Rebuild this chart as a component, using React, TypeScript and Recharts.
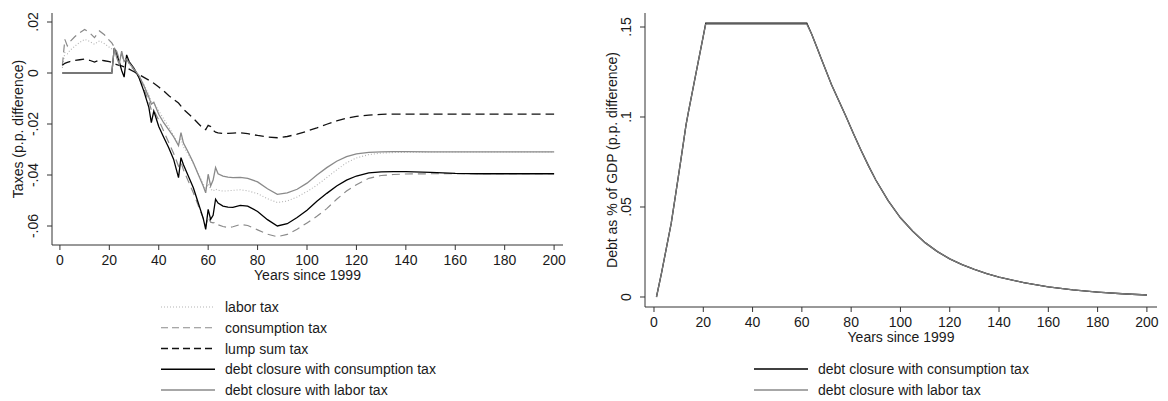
import React from "react";
import { LineChart, Line, XAxis, YAxis, Label } from "recharts";

// ---------- Left panel data (years since 1999) ----------
const years = [
  1, 2, 3, 4, 6, 8, 10, 12, 14, 16,
  18, 20, 21, 22, 23, 24, 25, 26, 27, 28,
  30, 32, 34, 36, 37, 38, 40, 42, 44, 46,
  48, 49, 50, 52, 54, 56, 58, 59, 60, 61,
  62, 63, 64, 66, 68, 70, 73, 76, 80, 84,
  88, 92, 96, 100, 104, 108, 112, 116, 120, 125,
  130, 135, 140, 150, 160, 170, 180, 190, 200,
];

const laborTax = [
  0.002, 0.008, 0.0075, 0.0088, 0.0105, 0.012, 0.0132, 0.0124, 0.0113, 0.0126,
  0.0115, 0.0101, 0.0095, 0.009, 0.0075, 0.005, 0.0072, 0.0045, 0.0055, 0.0035,
  0.001, -0.001, -0.0045, -0.0085, -0.0115, -0.0118, -0.0148, -0.018, -0.021, -0.0245,
  -0.028, -0.026, -0.029, -0.032, -0.0355, -0.0395, -0.0435, -0.0456, -0.0435, -0.0455,
  -0.0463, -0.0455, -0.046, -0.0463, -0.0462, -0.046, -0.0458, -0.0462, -0.0473, -0.0493,
  -0.0508, -0.0502, -0.0486, -0.0465, -0.044, -0.041, -0.038, -0.0352, -0.0333, -0.032,
  -0.0314, -0.0312, -0.0311, -0.031, -0.031, -0.031, -0.031, -0.031, -0.031,
];

const consumptionTax = [
  0.003, 0.0132, 0.0106, 0.0122, 0.0142, 0.0158, 0.0171, 0.0158, 0.0139, 0.0165,
  0.015, 0.0128, 0.0118, 0.0102, 0.0085, 0.0055, 0.0075, 0.0045, 0.006, 0.0035,
  0.0012, -0.0018, -0.0062, -0.0112, -0.0145, -0.0145, -0.0185, -0.0228, -0.0272, -0.0315,
  -0.0365, -0.035, -0.038, -0.0425, -0.047, -0.052, -0.057, -0.06, -0.0565, -0.0585,
  -0.0588, -0.0585, -0.0595, -0.0602, -0.0606, -0.0603, -0.0594, -0.0598, -0.0615, -0.0632,
  -0.0642, -0.0633, -0.0613, -0.0588, -0.0562, -0.0532, -0.0495, -0.0463, -0.0438, -0.0413,
  -0.0402, -0.0398, -0.0396, -0.0395, -0.0395, -0.0395, -0.0395, -0.0395, -0.0395,
];

const lumpSumTax = [
  0.003, 0.0038, 0.0042, 0.0045, 0.0049, 0.0052, 0.0055, 0.005, 0.0043, 0.0051,
  0.0048, 0.0045, 0.0042, 0.0036, 0.0033, 0.003, 0.0028, 0.0024, 0.002, 0.0015,
  0.0005, -0.0006, -0.0017, -0.0028, -0.0034, -0.004, -0.0055, -0.007, -0.0088, -0.0103,
  -0.0118, -0.013, -0.0142, -0.016, -0.0178, -0.0198, -0.0218, -0.0222, -0.0205, -0.021,
  -0.0225, -0.0232, -0.0235, -0.0237, -0.0237, -0.0236, -0.0234, -0.0238, -0.0245, -0.0251,
  -0.0254, -0.0249, -0.024, -0.0228, -0.0215, -0.0201, -0.0188, -0.0177, -0.017, -0.0165,
  -0.0162, -0.0161, -0.0161, -0.0161, -0.0161, -0.0161, -0.0161, -0.0161, -0.0161,
];

const debtClosureConsumption = [
  0, 0, 0, 0, 0, 0, 0, 0, 0, 0,
  0, 0, 0, 0.0098, 0.007, 0.0045, 0.001, -0.0016, 0.0071, 0.0045,
  0.0018, -0.0018, -0.0072, -0.0135, -0.0195, -0.0149, -0.021, -0.0252, -0.0292, -0.0338,
  -0.041, -0.0332, -0.036, -0.0405, -0.045, -0.051, -0.057, -0.0613, -0.0535, -0.0574,
  -0.0558, -0.0495, -0.051, -0.0522, -0.0526, -0.0527, -0.0519, -0.0522, -0.0543, -0.0575,
  -0.06, -0.0591, -0.0567, -0.0538, -0.0503, -0.0472, -0.0443, -0.042, -0.0404, -0.0392,
  -0.0388, -0.0387, -0.0387, -0.039, -0.0394, -0.0395, -0.0395, -0.0395, -0.0395,
];

const debtClosureLabor = [
  0, 0, 0, 0, 0, 0, 0, 0, 0, 0,
  0, 0, 0, 0.0098, 0.006, 0.0035, 0.0086, 0.0045, 0.0055, 0.004,
  0.0015, -0.001, -0.005, -0.0095, -0.0122, -0.0115, -0.0162, -0.0195, -0.0222, -0.025,
  -0.0285, -0.0234, -0.0275, -0.0312, -0.0352, -0.0398, -0.0443, -0.047, -0.0397, -0.0443,
  -0.042, -0.0371, -0.0395, -0.0404, -0.0408, -0.041, -0.0409, -0.0413, -0.0427, -0.0454,
  -0.0476, -0.047, -0.0456, -0.0432, -0.04, -0.0371, -0.0346, -0.0328, -0.0317, -0.0311,
  -0.0309, -0.0308, -0.0308, -0.0309, -0.0309, -0.0309, -0.0309, -0.0309, -0.0309,
];

// ---------- Right panel data ----------
const debtYears = [
  1, 3, 5, 7, 9, 11, 13, 14, 16, 18, 20, 21, 30, 40, 50, 60, 62,
  64, 66, 68, 70, 72, 75, 78, 81, 84, 87, 90, 95, 100, 105, 110, 115, 120,
  125, 130, 135, 140, 150, 160, 170, 180, 190, 200,
];
const debtConsumption = [
  0, 0.013, 0.027, 0.041, 0.059, 0.077, 0.0956, 0.103, 0.117, 0.131, 0.145, 0.1522, 0.1522, 0.1522, 0.1522, 0.1522, 0.1522,
  0.146, 0.139, 0.132, 0.125, 0.118, 0.109, 0.1, 0.0905, 0.0815, 0.073, 0.065, 0.0535, 0.044, 0.0365, 0.0302, 0.0252, 0.0212,
  0.018, 0.0153, 0.013, 0.0111, 0.008, 0.0056, 0.0039, 0.0027, 0.0018, 0.0011,
];
const debtLabor = [
  0, 0.013, 0.027, 0.041, 0.059, 0.077, 0.0956, 0.103, 0.117, 0.131, 0.145, 0.1516, 0.1516, 0.1516, 0.1516, 0.1516, 0.1516,
  0.146, 0.139, 0.132, 0.125, 0.118, 0.109, 0.1, 0.0905, 0.0815, 0.073, 0.065, 0.0535, 0.044, 0.0365, 0.0302, 0.0252, 0.0212,
  0.018, 0.0153, 0.013, 0.0111, 0.008, 0.0056, 0.0039, 0.0027, 0.0018, 0.0011,
];

// ---------- Tick labels ----------
const xTicks = [0, 20, 40, 60, 80, 100, 120, 140, 160, 180, 200];
const taxTicks = [0.02, 0, -0.02, -0.04, -0.06];
const debtTicks = [0, 0.05, 0.1, 0.15];

const taxRows = years.map((y, i) => ({
  year: y,
  labor: laborTax[i],
  consumption: consumptionTax[i],
  lump: lumpSumTax[i],
  dcCons: debtClosureConsumption[i],
  dcLabor: debtClosureLabor[i],
}));
const debtRows = debtYears.map((y, i) => ({
  year: y,
  dcCons: debtConsumption[i],
  dcLabor: debtLabor[i],
}));

const FONT = '"Liberation Sans", Arial, Helvetica, sans-serif';
const AXIS = "#333333";
const TXT = "#1a1a1a";
const FS = 14;
const GRAY = "#8a8a8a";
const LIGHT = "#b4b4b4";

function fmt(v: number): string {
  if (v === 0) return "0";
  const s = String(Math.abs(Math.round(v * 10000) / 10000)).replace(/^0/, "");
  return (v < 0 ? "-" : "") + s;
}

const XTick = (props: any) => {
  const { x, y, payload } = props;
  return (
    <text x={x} y={y + 15} textAnchor="middle" fontFamily={FONT} fontSize={FS} fill={TXT}>
      {payload.value}
    </text>
  );
};

const YTick = (props: any) => {
  const { x, y, payload } = props;
  const bx = x - 9;
  return (
    <text
      x={bx}
      y={y}
      transform={`rotate(-90 ${bx} ${y})`}
      textAnchor="middle"
      fontFamily={FONT}
      fontSize={FS}
      fill={TXT}
    >
      {fmt(payload.value)}
    </text>
  );
};

const xTitle = (props: any) => {
  const vb = props.viewBox;
  return (
    <text x={vb.x + vb.width / 2} y={vb.y + 35} textAnchor="middle" fontFamily={FONT} fontSize={FS} fill={TXT}>
      Years since 1999
    </text>
  );
};

const yTitle = (text: string, inset: number) => (props: any) => {
  const vb = props.viewBox;
  const cx = vb.x + vb.width - inset;
  const cy = vb.y + vb.height / 2;
  return (
    <text
      x={cx}
      y={cy}
      transform={`rotate(-90 ${cx} ${cy})`}
      textAnchor="middle"
      fontFamily={FONT}
      fontSize={FS}
      fill={TXT}
    >
      {text}
    </text>
  );
};

const leftXDomain: [number, number] = [-3.2, 203.6];
const rightXDomain: [number, number] = [-3.65, 204.1];

function LeftChart() {
  return (
    <LineChart width={580} height={290} data={taxRows} margin={{ top: 13, right: 17, bottom: 0, left: 0 }}>
      <XAxis
        dataKey="year"
        type="number"
        domain={leftXDomain}
        allowDataOverflow
        ticks={xTicks}
        interval={0}
        height={45}
        tickSize={5}
        tickMargin={0}
        tick={XTick}
        axisLine={{ stroke: AXIS }}
        tickLine={{ stroke: AXIS }}
      >
        <Label content={xTitle} />
      </XAxis>
      <XAxis
        xAxisId="top"
        orientation="top"
        type="number"
        domain={leftXDomain}
        allowDataOverflow
        ticks={[]}
        tick={false}
        tickLine={false}
        height={0}
        axisLine={{ stroke: AXIS }}
      />
      <YAxis
        type="number"
        domain={[-0.06745, 0.02353]}
        allowDataOverflow
        ticks={taxTicks}
        interval={0}
        width={52}
        tickSize={5}
        tickMargin={0}
        tick={YTick}
        axisLine={{ stroke: AXIS }}
        tickLine={{ stroke: AXIS }}
      >
        <Label content={yTitle("Taxes (p.p. difference)", 29)} />
      </YAxis>
      <YAxis
        yAxisId="right"
        orientation="right"
        type="number"
        domain={[-0.06745, 0.02353]}
        allowDataOverflow
        ticks={[]}
        tick={false}
        tickLine={false}
        width={0}
        axisLine={{ stroke: AXIS }}
      />
      <Line dataKey="labor" type="linear" stroke={LIGHT} strokeWidth={1.1} strokeDasharray="1 2" dot={false} isAnimationActive={false} />
      <Line dataKey="consumption" type="linear" stroke={GRAY} strokeWidth={1.2} strokeDasharray="8 5" dot={false} isAnimationActive={false} />
      <Line dataKey="lump" type="linear" stroke="#111" strokeWidth={1.3} strokeDasharray="9 5" dot={false} isAnimationActive={false} />
      <Line dataKey="dcCons" type="linear" stroke="#000" strokeWidth={1.3} dot={false} isAnimationActive={false} />
      <Line dataKey="dcLabor" type="linear" stroke={GRAY} strokeWidth={1.3} dot={false} isAnimationActive={false} />
    </LineChart>
  );
}

function RightChart() {
  return (
    <LineChart width={588} height={352} data={debtRows} margin={{ top: 13, right: 11, bottom: 0, left: 0 }}>
      <XAxis
        dataKey="year"
        type="number"
        domain={rightXDomain}
        allowDataOverflow
        ticks={xTicks}
        interval={0}
        height={45}
        tickSize={5}
        tickMargin={0}
        tick={XTick}
        axisLine={{ stroke: AXIS }}
        tickLine={{ stroke: AXIS }}
      >
        <Label content={xTitle} />
      </XAxis>
      <XAxis
        xAxisId="top"
        orientation="top"
        type="number"
        domain={rightXDomain}
        allowDataOverflow
        ticks={[]}
        tick={false}
        tickLine={false}
        height={0}
        axisLine={{ stroke: AXIS }}
      />
      <YAxis
        type="number"
        domain={[-0.00556, 0.15778]}
        allowDataOverflow
        ticks={debtTicks}
        interval={0}
        width={65}
        tickSize={5}
        tickMargin={0}
        tick={YTick}
        axisLine={{ stroke: AXIS }}
        tickLine={{ stroke: AXIS }}
      >
        <Label content={yTitle("Debt as % of GDP (p.p. difference)", 28)} />
      </YAxis>
      <YAxis
        yAxisId="right"
        orientation="right"
        type="number"
        domain={[-0.00556, 0.15778]}
        allowDataOverflow
        ticks={[]}
        tick={false}
        tickLine={false}
        width={0}
        axisLine={{ stroke: AXIS }}
      />
      <Line dataKey="dcCons" type="linear" stroke="#000" strokeWidth={1.3} dot={false} isAnimationActive={false} />
      <Line dataKey="dcLabor" type="linear" stroke="#7a7a7a" strokeWidth={1.3} dot={false} isAnimationActive={false} />
    </LineChart>
  );
}

type LegendItem = { label: string; color: string; dash?: string; width: number };

const leftLegend: LegendItem[] = [
  { label: "labor tax", color: LIGHT, dash: "1 2", width: 1.1 },
  { label: "consumption tax", color: GRAY, dash: "7 4", width: 1.2 },
  { label: "lump sum tax", color: "#111", dash: "7 4", width: 1.5 },
  { label: "debt closure with consumption tax", color: "#000", width: 1.4 },
  { label: "debt closure with labor tax", color: GRAY, width: 1.3 },
];
const rightLegend: LegendItem[] = [
  { label: "debt closure with consumption tax", color: "#000", width: 1.4 },
  { label: "debt closure with labor tax", color: GRAY, width: 1.3 },
];

function LegendBlock({ items, x0, top, step }: { items: LegendItem[]; x0: number; top: number; step: number }) {
  return (
    <g>
      {items.map((it, i) => {
        const cy = top + i * step;
        return (
          <g key={it.label}>
            <line x1={x0} x2={x0 + 54} y1={cy} y2={cy} stroke={it.color} strokeWidth={it.width} strokeDasharray={it.dash} />
            <text x={x0 + 64} y={cy + 5} fontFamily={FONT} fontSize={FS} fill={TXT}>
              {it.label}
            </text>
          </g>
        );
      })}
    </g>
  );
}

export default function App() {
  return (
    <div style={{ position: "absolute", left: 0, top: 0, width: 1168, height: 401, background: "#fff", overflow: "hidden" }}>
      <div style={{ position: "absolute", left: 0, top: 0 }}>
        <LeftChart />
      </div>
      <div style={{ position: "absolute", left: 580, top: 0 }}>
        <RightChart />
      </div>
      <svg width={1168} height={401} style={{ position: "absolute", left: 0, top: 0, pointerEvents: "none" }}>
        <LegendBlock items={leftLegend} x0={161} top={307} step={20.75} />
        <LegendBlock items={rightLegend} x0={754} top={369} step={21} />
      </svg>
    </div>
  );
}
